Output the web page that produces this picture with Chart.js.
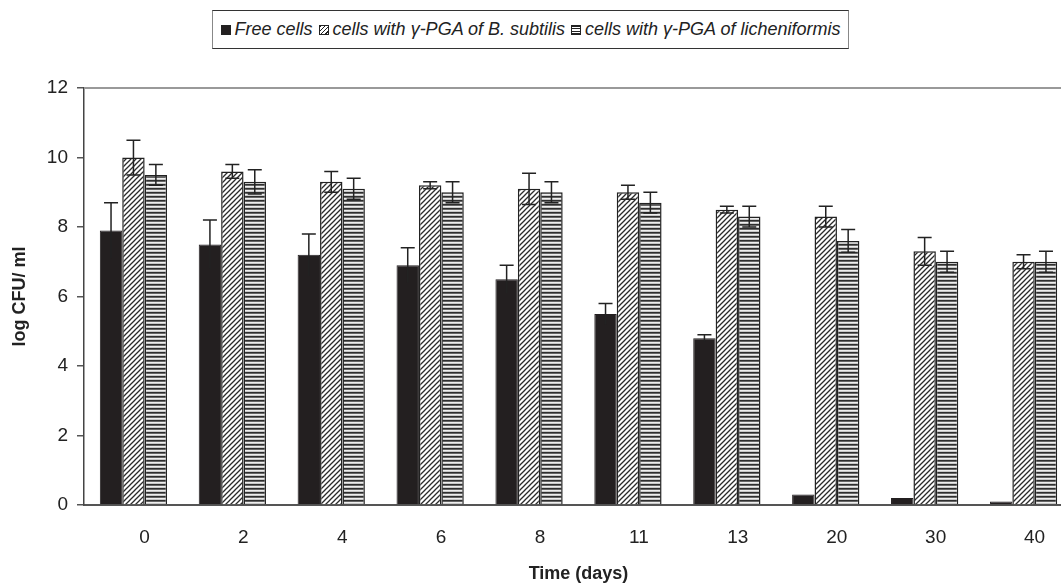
<!DOCTYPE html>
<html>
<head>
<meta charset="utf-8">
<script src="https://cdn.jsdelivr.net/npm/chart.js@4"></script>
<style>
  html, body { margin: 0; padding: 0; background: #fff; overflow: hidden; }
  #lienzo { position: absolute; left: 0; top: 0; width: 1080px; height: 585px; }
  #leyenda {
    position: absolute; left: 212px; top: 10px; width: 637px; height: 39px;
    box-sizing: border-box; border: 1.5px solid #333; border-left-color: #888; border-right-color: #888;
    display: flex; align-items: center; justify-content: center;
    font: italic 18px "Liberation Sans", Arial, sans-serif; color: #222; white-space: nowrap;
  }
  #leyenda span.item { margin: 0 3px; display: inline-flex; align-items: center; }
  #leyenda i { display: inline-block; width: 10px; height: 10px; margin-right: 4px; box-sizing: border-box; border: 1px solid #222; }
</style>
</head>
<body>
<div id="leyenda"></div>
<div id="lienzo"><canvas id="chartCFU" width="1080" height="585"></canvas></div>
<script>
const dias = ["0", "2", "4", "6", "8", "11", "13", "20", "30", "40"];
const yTicks = [0, 2, 4, 6, 8, 10, 12];

const libres = [7.9, 7.5, 7.2, 6.9, 6.5, 5.5, 4.8, 0.3, 0.2, 0.1];
const libresErr = [0.8, 0.7, 0.6, 0.5, 0.4, 0.3, 0.1, 0, 0, 0];

const subtilis = [10.0, 9.6, 9.3, 9.2, 9.1, 9.0, 8.5, 8.3, 7.3, 7.0];
const subtilisErr = [0.5, 0.2, 0.3, 0.1, 0.45, 0.2, 0.1, 0.3, 0.4, 0.2];

const licheni = [9.5, 9.3, 9.1, 9.0, 9.0, 8.7, 8.3, 7.6, 7.0, 7.0];
const licheniErr = [0.3, 0.35, 0.3, 0.3, 0.3, 0.3, 0.3, 0.33, 0.3, 0.3];

const nombres = ["Free cells", "cells with γ-PGA of B. subtilis", "cells with γ-PGA of licheniformis"];

const ctx = document.getElementById("chartCFU").getContext("2d");

function patronDiagonal() {
  const c = document.createElement("canvas");
  c.width = 5; c.height = 5;
  const g = c.getContext("2d");
  g.fillStyle = "#fff";
  g.fillRect(0, 0, 5, 5);
  g.strokeStyle = "#2b2b2b";
  g.lineWidth = 1.3;
  g.beginPath();
  g.moveTo(-1, 6); g.lineTo(6, -1);
  g.moveTo(-1, 1); g.lineTo(1, -1);
  g.moveTo(4, 6); g.lineTo(6, 4);
  g.stroke();
  return ctx.createPattern(c, "repeat");
}

function patronHorizontal() {
  const c = document.createElement("canvas");
  c.width = 4; c.height = 4;
  const g = c.getContext("2d");
  const filas = ["#2e2e2e", "#666", "#eee", "#c8c8c8"];
  filas.forEach((col, i) => { g.fillStyle = col; g.fillRect(0, i, 4, 1); });
  return ctx.createPattern(c, "repeat");
}

// leyenda en html
const muestras = [
  "background:#231f20",
  "background:repeating-linear-gradient(135deg,#222 0 1px,#fff 1px 3px)",
  "background:repeating-linear-gradient(0deg,#222 0 1px,#fff 1px 2.5px)"
];
document.getElementById("leyenda").innerHTML = nombres
  .map((n, i) => `<span class="item"><i style="${muestras[i]}"></i>${n}</span>`)
  .join("");

const errores = [libresErr, subtilisErr, licheniErr];

const barrasError = {
  id: "barrasError",
  afterDatasetsDraw(chart) {
    const g = chart.ctx;
    const y = chart.scales.y;
    g.save();
    g.strokeStyle = "#222";
    g.lineWidth = 1.5;
    chart.data.datasets.forEach((ds, d) => {
      const meta = chart.getDatasetMeta(d);
      meta.data.forEach((bar, i) => {
        const e = errores[d][i];
        if (!e) return;
        const v = ds.data[i];
        const x = bar.x;
        const yt = y.getPixelForValue(v + e);
        const yb = y.getPixelForValue(v - e);
        g.beginPath();
        g.moveTo(x, yb); g.lineTo(x, yt);
        g.moveTo(x - 7, yt); g.lineTo(x + 7, yt);
        if (d > 0) { g.moveTo(x - 7, yb); g.lineTo(x + 7, yb); }
        g.stroke();
      });
    });
    g.restore();
  }
};

const bordeSuperior = {
  id: "bordeSuperior",
  afterDraw(chart) {
    const a = chart.chartArea;
    const g = chart.ctx;
    g.save();
    g.strokeStyle = "#999";
    g.lineWidth = 2;
    g.beginPath();
    g.moveTo(a.left, a.top); g.lineTo(chart.width, a.top);
    g.stroke();
    g.restore();
  }
};

const fuente = "'Liberation Sans', Arial, sans-serif";

new Chart(ctx, {
  type: "bar",
  data: {
    labels: dias,
    datasets: [
      { label: nombres[0], data: libres, backgroundColor: "#231f20", borderColor: "#231f20", borderWidth: 1 },
      { label: nombres[1], data: subtilis, backgroundColor: patronDiagonal(), borderColor: "#222", borderWidth: 1.5 },
      { label: nombres[2], data: licheni, backgroundColor: patronHorizontal(), borderColor: "#222", borderWidth: 1.5 }
    ]
  },
  options: {
    responsive: false,
    animation: false,
    layout: { padding: { left: 0, right: 7, top: 88, bottom: 0 } },
    datasets: { bar: { categoryPercentage: 0.68, barPercentage: 1 } },
    scales: {
      x: {
        grid: { display: false, drawTicks: false },
        border: { color: "#555", width: 2 },
        ticks: { color: "#222", font: { family: fuente, size: 19 }, padding: 21, labelOffset: 11 },
        title: { display: true, text: "Time (days)", color: "#222", font: { family: fuente, size: 18, weight: "bold" }, padding: { top: 10, bottom: 0 } },
        afterFit: s => { s.height = 80; }
      },
      y: {
        min: 0,
        max: 12,
        afterBuildTicks: s => { s.ticks = yTicks.map(v => ({ value: v })); },
        grid: { drawOnChartArea: false, drawTicks: true, tickLength: 7, color: "#555", lineWidth: 1.5 },
        border: { color: "#444", width: 1.5 },
        ticks: { color: "#222", font: { family: fuente, size: 19 }, padding: 9 },
        title: { display: true, text: "log CFU/ ml", color: "#222", font: { family: fuente, size: 18, weight: "bold" }, padding: { top: 9, bottom: 0 } },
        afterFit: s => { s.width = 84; }
      }
    },
    plugins: {
      legend: { display: false },
      tooltip: { enabled: false }
    }
  },
  plugins: [barrasError, bordeSuperior]
});
</script>
</body>
</html>
